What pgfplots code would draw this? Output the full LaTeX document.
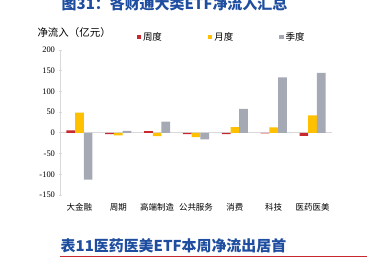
\documentclass[border=0pt]{standalone}
\usepackage{fontspec}
\setmainfont{Liberation Serif}
\newfontfamily\cjk{Noto Sans CJK SC}
\usepackage{pgfplots}
\pgfplotsset{compat=1.18}
\definecolor{cred}{RGB}{200,40,48}
\definecolor{cyel}{RGB}{255,192,0}
\definecolor{cgray}{RGB}{165,169,180}
\definecolor{cblue}{RGB}{31,78,160}
\definecolor{caxis}{RGB}{217,217,217}
\begin{document}
\begin{tikzpicture}[x=1bp,y=1bp]
\path[use as bounding box] (0,0) rectangle (367,263);
\begin{axis}[
  at={(60bp,68bp)}, anchor=south west,
  scale only axis, width=272bp, height=145bp,
  xmin=-0.5, xmax=6.5, ymin=-150, ymax=200,
  ytick={-150,-100,...,200},
  xtick={0,...,6},
  xticklabels={大金融,周期,高端制造,公共服务,消费,科技,医药医美},
  ybar=0pt, bar width=8.7bp,
  axis x line*=bottom, axis y line*=left,
  x axis line style={draw=none},
  y axis line style={draw=caxis, line width=0.8bp},
  xtick style={draw=none},
  ytick style={draw=caxis, line width=0.8bp},
  major tick length=3bp, tick align=center,
  /pgf/number format/assume math mode=true,
  yticklabel style={font=\fontsize{8.5}{10}\selectfont},
  xticklabel style={font=\cjk\fontsize{8.5}{10}\selectfont, yshift=-3bp},
  legend style={font=\cjk\fontsize{9.5}{11}\selectfont, draw=none, fill=none,
    at={(0.27,1.09)}, anchor=west, legend columns=3,
    /tikz/every even column/.append style={column sep=44bp}},
  legend image code/.code={\fill[#1] (0bp,-2.2bp) rectangle (4.4bp,2.2bp);},
]
\draw[caxis, line width=0.8bp] (axis cs:-0.5,0) -- (axis cs:6.5,0);
\addplot[fill=cred, draw=none] coordinates {(0,6) (1,-3) (2,4) (3,-3) (4,-3) (5,-1) (6,-7)};
\addlegendentry{周度}
\addplot[fill=cyel, draw=none] coordinates {(0,49) (1,-6) (2,-8) (3,-10) (4,14) (5,13) (6,42)};
\addlegendentry{月度}
\addplot[fill=cgray, draw=none] coordinates {(0,-113) (1,5) (2,27) (3,-16) (4,58) (5,134) (6,145)};
\addlegendentry{季度}
\end{axis}
\node[anchor=west, font=\cjk\fontsize{10.5}{12}\selectfont] at (34,230) {净流入（亿元）};
\node[font=\cjk\bfseries\fontsize{15}{17}\selectfont, text=cblue] at (174.5,259.5) {图31：各财通大类ETF净流入汇总};
\node[font=\cjk\bfseries\fontsize{15}{17}\selectfont, text=cblue] at (173.5,17.5) {表11医药医美ETF本周净流出居首};
\draw[cred, line width=1bp] (60,6.3) -- (367,6.3);
\end{tikzpicture}
\end{document}
